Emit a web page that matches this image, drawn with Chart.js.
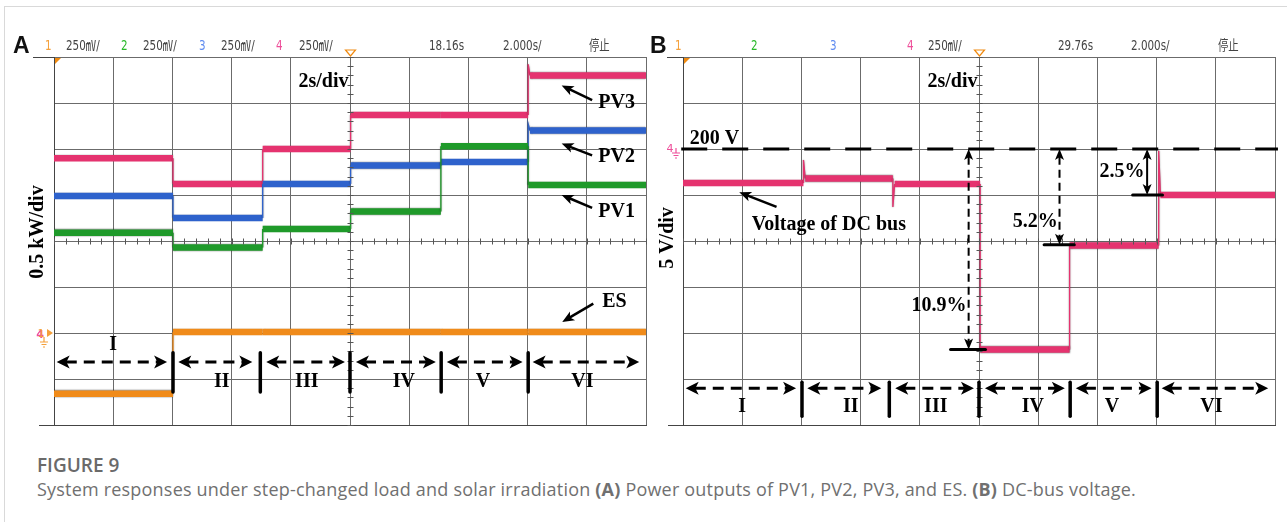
<!DOCTYPE html>
<html>
<head>
<meta charset="utf-8">
<script src="https://cdn.jsdelivr.net/npm/chart.js@4.4.1/dist/chart.umd.min.js"></script>
<style>
  html, body { margin: 0; padding: 0; background: #fff; }
  body { width: 1287px; height: 522px; position: relative; overflow: hidden; font-family: "Open Sans", sans-serif; }
  #frame { position: absolute; left: 4px; top: 6px; width: 1300px; height: 600px; border-left: 1px solid #d9d9d9; border-top: 1px solid #d9d9d9; }
  #cA { position: absolute; left: 0; top: 0; }
  #cB { position: absolute; left: 648px; top: 0; }
  .fig { position: absolute; left: 37px; top: 452px; font-size: 19px; font-weight: 600; color: #6a6a6a; }
  .cap { position: absolute; left: 37px; top: 477px; font-size: 18px; letter-spacing: 0.2px; color: #707070; white-space: nowrap; }
</style>
</head>
<body>
<div id="frame"></div>
<canvas id="cA" width="648" height="440"></canvas>
<canvas id="cB" width="639" height="440"></canvas>
<div class="fig">FIGURE 9</div>
<div class="cap">System responses under step-changed load and solar irradiation <b>(A)</b> Power outputs of PV1, PV2, PV3, and ES. <b>(B)</b> DC-bus voltage.</div>

<script>
// --- DATA ---
// time base 2 s/div, 10 div on each screen
const stageNames = ['I', 'II', 'III', 'IV', 'V', 'VI'];
// instants (s) where the traces step
const stepsA = [0, 4.02, 7.05, 10.02, 13.07, 16.02, 20];
const stepsB = [0, 4.07, 7.09, 10.04, 13.06, 16.07, 20];

// panel A, kW (0.5 kW/div), one level per stage
const pv3 = [1.90, 1.62, 2.00, 2.37, 2.37, 2.80];
const pv2 = [1.49, 1.25, 1.62, 1.82, 1.86, 2.20];
const pv1 = [1.09, 0.93, 1.13, 1.32, 2.03, 1.61];
const es  = [-0.66, 0.01, 0.01, 0.01, 0.01, 0.01];
// overshoot right at a step (null = none)
const pv3Peak = [null, null, null, null, null, 2.92];
const pv2Peak = [null, null, null, null, null, 2.27];

// panel B, DC bus voltage (5 V/div)
const vBus = [196.3, 196.8, 196.2, 178.2, 189.5, 195.0];
const vBusPeak = [null, 198.8, 193.7, null, null, 199.8];
const vRef = 200;
// voltage dips marked on B: [label, level]
const dips = [['10.9%', 178.2], ['5.2%', 189.6], ['2.5%', 195.0]];

// stage row: arrow spans (s), separators (s), label positions (s)
const stageSpans = [[0.09, 3.82], [4.2, 6.7], [7.17, 9.83], [10.2, 12.9], [13.27, 15.83], [16.17, 19.77]];
const stageSeps = [4.02, 6.97, 10.0, 13.08, 16.02];
const stageLabelT = [2.0, 5.67, 8.54, 11.82, 14.49, 17.85];

// --- HELPERS ---
function trace(steps, levels, peaks) {
  const pts = [];
  levels.forEach((v, i) => {
    const p = peaks ? peaks[i] : null;
    if (p != null) {
      pts.push({ x: steps[i], y: p });
      pts.push({ x: steps[i] + 0.06, y: v });
    } else {
      pts.push({ x: steps[i], y: v });
    }
    pts.push({ x: steps[i + 1], y: v });
  });
  return pts;
}

function scopeLine(data, color) {
  return {
    data, borderColor: color, borderWidth: 6, pointRadius: 0, tension: 0,
    // thick trace on the flat parts, thin line on the steps
    segment: { borderWidth: c => Math.abs(c.p1.parsed.x - c.p0.parsed.x) < 0.1 ? 1.3 : 6.5 }
  };
}

const SERIF = 'bold 20px "Liberation Serif", "DejaVu Serif", serif';

function text(ctx, s, x, y, font, align, color) {
  ctx.save();
  ctx.font = font;
  ctx.fillStyle = color || '#000';
  ctx.textAlign = align || 'left';
  ctx.textBaseline = 'middle';
  ctx.fillText(s, x, y);
  ctx.restore();
}

function scopeText(ctx, s, x, y, color) {
  // narrow scope-screen font
  ctx.save();
  ctx.translate(x, y);
  ctx.scale(0.74, 1);
  ctx.font = '14px "DejaVu Sans", "Noto Sans CJK SC", sans-serif';
  ctx.fillStyle = color;
  ctx.textBaseline = 'middle';
  ctx.fillText(s, 0, 0);
  ctx.restore();
}

function head(ctx, x, y, ang, len, w) {
  ctx.save();
  ctx.translate(x, y);
  ctx.rotate(ang);
  ctx.beginPath();
  ctx.moveTo(0, 0);
  ctx.lineTo(-len, -w / 2);
  ctx.lineTo(-len * 0.75, 0);
  ctx.lineTo(-len, w / 2);
  ctx.closePath();
  ctx.fill();
  ctx.restore();
}

function arrow(ctx, x1, y1, x2, y2, o) {
  o = o || {};
  const len = o.len || 12, hw = o.hw || 10;
  const ang = Math.atan2(y2 - y1, x2 - x1);
  const c = Math.cos(ang), s = Math.sin(ang);
  ctx.save();
  ctx.strokeStyle = ctx.fillStyle = '#000';
  ctx.lineWidth = o.w || 2.5;
  ctx.setLineDash(o.dash || []);
  ctx.beginPath();
  const k = len * 0.7;
  ctx.moveTo(o.both ? x1 + c * k : x1, o.both ? y1 + s * k : y1);
  ctx.lineTo(x2 - c * k, y2 - s * k);
  ctx.stroke();
  ctx.setLineDash([]);
  head(ctx, x2, y2, ang, len, hw);
  if (o.both) head(ctx, x1, y1, ang + Math.PI, len, hw);
  ctx.restore();
}

function bar(ctx, x1, y1, x2, y2, w) {
  ctx.save();
  ctx.strokeStyle = '#000';
  ctx.lineWidth = w;
  ctx.lineCap = 'round';
  ctx.beginPath();
  ctx.moveTo(x1, y1);
  ctx.lineTo(x2, y2);
  ctx.stroke();
  ctx.restore();
}

function screenBits(ctx, a, x, y, letter, letterX, topFrom, botFrom, hCenter, vStep, hStep) {
  // extended top / bottom lines
  ctx.save();
  ctx.strokeStyle = '#444';
  ctx.lineWidth = 1;
  ctx.beginPath();
  ctx.moveTo(topFrom, a.top + 0.5); ctx.lineTo(a.left, a.top + 0.5);
  ctx.moveTo(botFrom, a.bottom + 0.5); ctx.lineTo(a.left, a.bottom + 0.5);
  ctx.stroke();
  // minor ticks on the centre cross
  const cx = Math.round(x.getPixelForValue(10)) + 0.5;
  const cy = Math.round(y.getPixelForValue(hCenter)) + 0.5;
  ctx.strokeStyle = '#555';
  ctx.beginPath();
  for (let v = y.min; v <= y.max + 1e-6; v += vStep) {
    const py = Math.round(y.getPixelForValue(v)) + 0.5;
    ctx.moveTo(cx - 3, py); ctx.lineTo(cx + 3, py);
  }
  for (let t = 0; t <= 20 + 1e-6; t += hStep) {
    const px = Math.round(x.getPixelForValue(t)) + 0.5;
    ctx.moveTo(px, cy - 3); ctx.lineTo(px, cy + 3);
  }
  ctx.stroke();
  // trigger marks
  ctx.fillStyle = '#f08a10';
  ctx.beginPath();
  ctx.moveTo(a.left + 1, a.top + 1); ctx.lineTo(a.left + 7, a.top + 1); ctx.lineTo(a.left + 1, a.top + 7);
  ctx.closePath(); ctx.fill();
  ctx.strokeStyle = '#f08a10';
  ctx.lineWidth = 1.2;
  ctx.beginPath();
  ctx.moveTo(cx - 5, a.top - 7); ctx.lineTo(cx + 5, a.top - 7); ctx.lineTo(cx, a.top - 1);
  ctx.closePath(); ctx.stroke();
  ctx.restore();
  // panel letter and time base note
  text(ctx, letter, letterX, a.top - 10, 'bold 23px "Liberation Sans", Arial, sans-serif', 'left', '#111');
  text(ctx, '2s/div', cx - 2, a.top + 25, SERIF, 'right');
}

function stageRow(ctx, x, y, rowV, sepTop, sepBot, labelV, firstLabelV) {
  const ry = y.getPixelForValue(rowV);
  stageSpans.forEach(([t1, t2]) => {
    arrow(ctx, x.getPixelForValue(t1), ry, x.getPixelForValue(t2), ry,
      { both: true, dash: [11, 7], w: 3, len: 13, hw: 13 });
  });
  stageSeps.forEach(t => {
    const px = x.getPixelForValue(t);
    bar(ctx, px, y.getPixelForValue(sepTop), px, y.getPixelForValue(sepBot), 3.5);
  });
  stageNames.forEach((n, i) => {
    const v = i === 0 && firstLabelV != null ? firstLabelV : labelV;
    text(ctx, n, x.getPixelForValue(stageLabelT[i]), y.getPixelForValue(v), SERIF, 'center');
  });
}

function groundSymbol(ctx, gx, gy, color) {
  ctx.save();
  ctx.strokeStyle = color;
  ctx.lineWidth = 1.2;
  ctx.beginPath();
  ctx.moveTo(gx, gy); ctx.lineTo(gx, gy + 5);
  ctx.moveTo(gx - 4, gy + 5); ctx.lineTo(gx + 4, gy + 5);
  ctx.moveTo(gx - 2.5, gy + 7.5); ctx.lineTo(gx + 2.5, gy + 7.5);
  ctx.moveTo(gx - 1, gy + 10); ctx.lineTo(gx + 1, gy + 10);
  ctx.stroke();
  ctx.restore();
}

const shade = {
  id: 'shade',
  beforeDatasetsDraw(chart) {
    const ctx = chart.ctx;
    ctx.save();
    ctx.shadowColor = 'rgba(20,20,20,0.55)';
    ctx.shadowBlur = 1.5;
  },
  afterDatasetsDraw(chart) { chart.ctx.restore(); }
};

function scopeOptions(yMin, yMax, yStep, pad) {
  const grid = { color: '#6b6b6b', lineWidth: 1, drawTicks: false };
  return {
    responsive: false,
    animation: false,
    layout: { padding: pad },
    plugins: { legend: { display: false }, tooltip: { enabled: false } },
    scales: {
      x: { type: 'linear', min: 0, max: 20, ticks: { display: false, stepSize: 2 }, grid, border: { color: '#444' } },
      y: { type: 'linear', min: yMin, max: yMax, ticks: { display: false, stepSize: yStep }, grid, border: { color: '#444' } }
    }
  };
}

// --- PANEL A ---
const headerA = [
  ['1', 45, '#f5a03a'], ['250㎷/', 66, '#444'], ['2', 121, '#27b827'], ['250㎷/', 143, '#444'],
  ['3', 199, '#5f8bf0'], ['250㎷/', 221, '#444'], ['4', 276, '#ee4f9a'], ['250㎷/', 299, '#444'],
  ['18.16s', 429, '#444'], ['2.000s/', 503, '#444'], ['停止', 589, '#444']
];

const decorA = {
  id: 'decorA',
  afterDraw(chart) {
    const { ctx, chartArea: a, scales: { x, y } } = chart;
    screenBits(ctx, a, x, y, 'A', 13, 33, 39, 1.0, 0.1, 0.4);
    headerA.forEach(([s, px, c]) => scopeText(ctx, s, px, 46, c));

    // ground marker of the four channels
    const gy = y.getPixelForValue(0);
    text(ctx, '4', 40, gy + 2, 'bold 11px "DejaVu Sans", sans-serif', 'center', '#ee4f9a');
    text(ctx, '1', 41, gy + 1, '11px "DejaVu Sans", sans-serif', 'center', '#f5a03a');
    ctx.save();
    ctx.fillStyle = '#f5a03a';
    ctx.beginPath(); ctx.moveTo(47, gy - 4); ctx.lineTo(53, gy); ctx.lineTo(47, gy + 4); ctx.closePath(); ctx.fill();
    ctx.restore();
    groundSymbol(ctx, 44, gy + 4, '#f5a03a');

    // y unit
    ctx.save();
    ctx.translate(38, 232);
    ctx.rotate(-Math.PI / 2);
    text(ctx, '0.5 kW/div', 0, 0, SERIF, 'center');
    ctx.restore();

    // trace labels
    const P = (t, v) => [x.getPixelForValue(t), y.getPixelForValue(v)];
    [['PV3', 2.50, 2.53, 2.69], ['PV2', 1.91, 1.93, 2.06], ['PV1', 1.32, 1.36, 1.50]].forEach(([n, tv, a1, a2]) => {
      text(ctx, n, ...P(18.39, tv), SERIF);
      arrow(ctx, ...P(18.18, a1), ...P(17.15, a2));
    });
    text(ctx, 'ES', ...P(18.52, 0.34), SERIF);
    arrow(ctx, ...P(18.22, 0.32), ...P(17.17, 0.12));

    stageRow(ctx, x, y, -0.315, -0.215, -0.64, -0.53, -0.13);
  }
};

new Chart(document.getElementById('cA'), {
  type: 'line',
  data: {
    datasets: [
      scopeLine(trace(stepsA, es), '#f08b1a'),
      scopeLine(trace(stepsA, pv1), '#1f9a2a'),
      scopeLine(trace(stepsA, pv2, pv2Peak), '#2e62cc'),
      scopeLine(trace(stepsA, pv3, pv3Peak), '#e5336f')
    ]
  },
  options: scopeOptions(-1, 3, 0.5, { left: 54, top: 57, right: 2, bottom: 15 }),
  plugins: [shade, decorA]
});

// --- PANEL B ---
const headerB = [
  ['1', 27, '#f5a03a'], ['2', 103, '#27b827'], ['3', 182, '#5f8bf0'], ['4', 259, '#ee4f9a'],
  ['250㎷/', 280, '#444'], ['29.76s', 410, '#444'], ['2.000s/', 483, '#444'], ['停止', 570, '#444']
];
// where the dip arrows stand (s) and where their labels end (s, level)
const dipMarks = [
  { t: 9.65, bar: [9.04, 10.22], lab: [9.58, 182.9], dash: true },
  { t: 12.72, bar: [12.2, 13.22], lab: [12.66, 192.07], dash: true },
  { t: 15.68, bar: [15.19, 16.2], lab: [15.59, 197.5], dash: false }
];

const decorB = {
  id: 'decorB',
  afterDraw(chart) {
    const { ctx, chartArea: a, scales: { x, y } } = chart;
    screenBits(ctx, a, x, y, 'B', 2, 19, 20, 190, 1, 0.4);
    headerB.forEach(([s, px, c]) => scopeText(ctx, s, px, 46, c));

    const ry = y.getPixelForValue(vRef);
    text(ctx, '4', 22, ry, '11px "DejaVu Sans", sans-serif', 'center', '#ee4f9a');
    groundSymbol(ctx, 28, ry - 1, '#ee4f9a');

    ctx.save();
    ctx.translate(20, 238);
    ctx.rotate(-Math.PI / 2);
    text(ctx, '5 V/div', 0, 0, SERIF, 'center');
    ctx.restore();

    // reference line at 200 V
    ctx.save();
    ctx.strokeStyle = '#000';
    ctx.lineWidth = 3;
    ctx.setLineDash([26, 15]);
    ctx.beginPath();
    ctx.moveTo(x.getPixelForValue(-0.06), ry);
    ctx.lineTo(x.getPixelForValue(20.1), ry);
    ctx.stroke();
    ctx.restore();
    text(ctx, vRef + ' V', x.getPixelForValue(0.23), y.getPixelForValue(201.13), SERIF);

    dips.forEach(([lab, v], i) => {
      const m = dipMarks[i];
      const px = x.getPixelForValue(m.t), py = y.getPixelForValue(v);
      arrow(ctx, px, ry, px, py, { both: true, dash: m.dash ? [8, 5] : [], w: 2, len: 11, hw: 9 });
      bar(ctx, x.getPixelForValue(m.bar[0]), py, x.getPixelForValue(m.bar[1]), py, 3);
      text(ctx, lab, x.getPixelForValue(m.lab[0]), y.getPixelForValue(m.lab[1]), SERIF, 'right');
    });

    text(ctx, 'Voltage of DC bus', x.getPixelForValue(2.32), y.getPixelForValue(191.8), SERIF);
    arrow(ctx, x.getPixelForValue(3.16), y.getPixelForValue(193.7), x.getPixelForValue(1.9), y.getPixelForValue(195.3));

    stageRow(ctx, x, y, 174.0, 174.65, 170.95, 172.0, null);
  }
};

new Chart(document.getElementById('cB'), {
  type: 'line',
  data: { datasets: [scopeLine(trace(stepsB, vBus, vBusPeak), '#e5336f')] },
  options: scopeOptions(170, 210, 5, { left: 35, top: 57, right: 12, bottom: 15 }),
  plugins: [shade, decorB]
});
</script>
</body>
</html>
